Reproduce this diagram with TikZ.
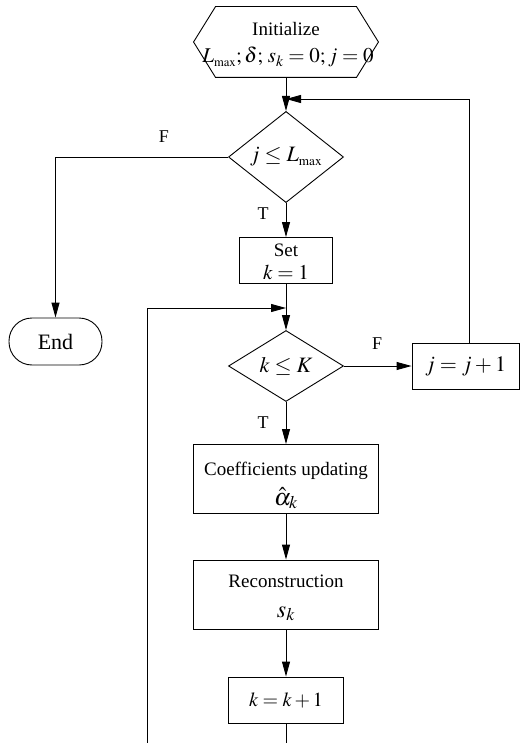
\documentclass[tikz,border=0pt]{standalone}
\usepackage{mathptmx}
\usepackage[no-math]{fontspec}
\setmainfont{Liberation Serif}
\usetikzlibrary{shapes.geometric,arrows.meta}
\begin{document}
\begin{tikzpicture}[x=1pt,y=-1pt, line width=0.9pt,
  box/.style={draw, rectangle, inner sep=0pt},
  dec/.style={draw, diamond, inner sep=0pt, minimum width=115pt, minimum height=70pt, font=\fontsize{22}{26}\selectfont},
  arr/.style={-{Triangle[length=15pt,width=8pt]}},
  lab/.style={font=\fontsize{18}{20}\selectfont},
  txt/.style={anchor=base, inner sep=0pt, font=\fontsize{19}{22}\selectfont},
  mth/.style={anchor=base, inner sep=0pt, font=\fontsize{21}{24}\selectfont},
  bigm/.style={anchor=base, inner sep=0pt, font=\fontsize{24}{28}\selectfont}]
\useasboundingbox (0,0) rectangle (520,743);

% initialize (hexagon)
\node[inner sep=0pt, minimum width=184pt, minimum height=70pt] (init) at (286,42) {};
\draw ([xshift=22pt]init.north west) -- ([xshift=-22pt]init.north east) -- (init.east)
  -- ([xshift=-22pt]init.south east) -- ([xshift=22pt]init.south west) -- (init.west) -- cycle;
\node[txt] (initt) at (286,36) {Initialize};
\node[mth] (initm) at (288,63) {$L_{\scriptscriptstyle\max}; \delta;\, s_k=0; j=0$};

% decisions
\node[dec] (d1) at (286,157) {$j \le L_{\scriptscriptstyle\max}$};
\node[dec] (d2) at (286,366) {$k \le K$};

% set k=1
\node[box, minimum width=93pt, minimum height=46pt] (set) at (286,260.5) {};
\node[txt] (sett) at (286,256) {Set};
\node[mth] (setm) at (286,279) {$k=1$};

% end
\node[draw, rounded corners=23pt, minimum width=93pt, minimum height=47pt, inner sep=0pt, font=\fontsize{22}{24}\selectfont] (end) at (55.5,341.5) {End};

% j = j+1
\node[box, minimum width=107pt, minimum height=46pt, font=\fontsize{22}{26}\selectfont] (jj) at (465.5,366) {$j=j+1$};

% coefficients updating
\node[box, minimum width=185pt, minimum height=69pt] (coef) at (286,479) {};
\node[txt] (coeft) at (286,475) {Coefficients updating};
\node[bigm] (coefm) at (286,505) {$\hat{\alpha}_k$};

% reconstruction
\node[box, minimum width=185pt, minimum height=69pt] (rec) at (286,594.5) {};
\node[txt] (rect) at (286,587) {Reconstruction};
\node[bigm] (recm) at (286,617) {$s_k$};

% k = k+1
\node[box, minimum width=115pt, minimum height=46pt, font=\fontsize{20}{24}\selectfont] (inc) at (286,700) {$k=k+1$};

% labels
\node[lab] (f1) at (164,137) {F};
\node[lab] (t1) at (263,214) {T};
\node[lab] (f2) at (377,344) {F};
\node[lab] (t2) at (263,423) {T};

% coordinates
\coordinate (fb) at (286,99);
\coordinate (lp) at (286,308);
\coordinate (bot) at (286,743);
\coordinate (lb) at (147,743);

% connectors
\draw[arr] (init.south) -- (d1.north);
\draw[arr] ([xshift=3.5pt]jj.north) |- (fb);
\draw[arr] (d1.west) -| (end.north);
\draw[arr] (d1.south) -- (set.north);
\draw[arr] (set.south) -- (d2.north);
\draw[arr] (lb) |- (lp);
\draw[arr] (d2.east) -- (jj.west);
\draw[arr] (d2.south) -- (coef.north);
\draw[arr] (coef.south) -- (rec.north);
\draw[arr] (rec.south) -- (inc.north);
\draw (inc.south) -- (bot);
\end{tikzpicture}
\end{document}
